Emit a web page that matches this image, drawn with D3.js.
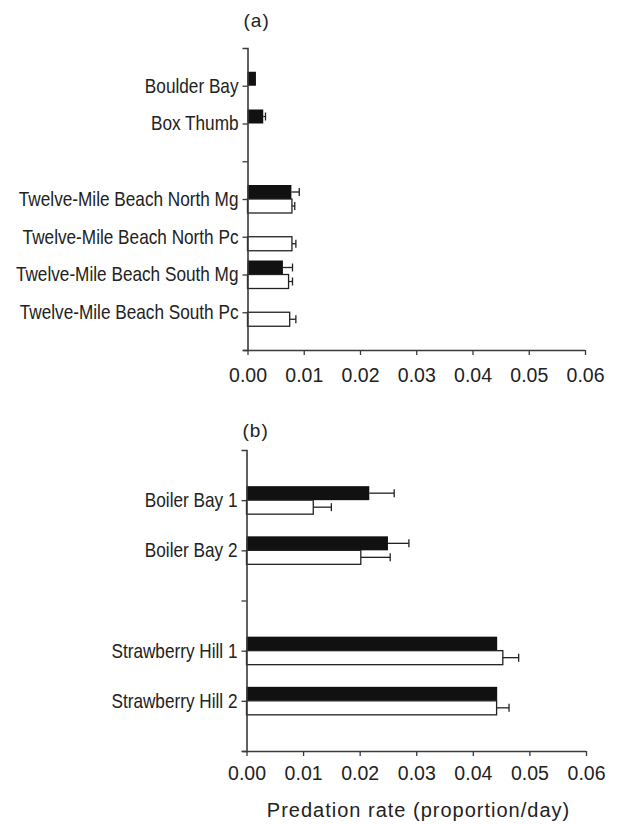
<!DOCTYPE html>
<html>
<head>
<meta charset="utf-8">
<script src="https://cdnjs.cloudflare.com/ajax/libs/d3/7.8.5/d3.min.js"></script>
<style>
  body { margin: 0; background: #fff; }
  svg { display: block; font-family: 'Liberation Sans', Arial, Helvetica, sans-serif; }
</style>
</head>
<body>
<svg id="chart" width="624" height="824"></svg>
<script>
// panel (a) data
const sitesA = ['Boulder Bay', 'Box Thumb', ' ', 'Twelve-Mile Beach North Mg', 'Twelve-Mile Beach North Pc',
  'Twelve-Mile Beach South Mg', 'Twelve-Mile Beach South Pc']
const blackA = [0.0015, 0.0028, null, 0.0078, null, 0.0063, null]
const blackErrA = [null, 0.0004, null, 0.0014, null, 0.0017, null]
const whiteA = [null, null, null, 0.0079, 0.0079, 0.0073, 0.0075]
const whiteErrA = [null, null, null, 0.0005, 0.0007, 0.0007, 0.0011]

// panel (b) data
const sitesB = ['Boiler Bay 1', 'Boiler Bay 2', ' ', 'Strawberry Hill 1', 'Strawberry Hill 2']
const blackB = [0.0217, 0.0250, null, 0.0443, 0.0443]
const blackErrB = [0.0044, 0.0037, null, null, null]
const whiteB = [0.0118, 0.0202, null, 0.0453, 0.0442]
const whiteErrB = [0.0032, 0.0052, null, 0.0028, 0.0022]

const xTicks = [0, 0.01, 0.02, 0.03, 0.04, 0.05, 0.06]
const xTitle = 'Predation rate (proportion/day)'

const svg = d3.select('#chart')
const axisColor = '#3a3a3a'
const barH = 14

function drawPanel(opts) {
  const g = svg.append('g')
  const x = d3.scaleLinear().domain([0, 0.06]).range([opts.left, opts.right])
  const y = d3.scalePoint().domain(opts.sites).range([opts.top, opts.bottom]).padding(1)

  // 面板标签
  g.append('text')
    .attr('x', opts.left - 4)
    .attr('y', opts.labelY)
    .attr('font-size', 19)
    .attr('letter-spacing', 1)
    .attr('fill', '#222')
    .text(opts.label)

  // bars
  const rows = opts.sites.map((s, i) => ({
    site: s,
    black: opts.black[i],
    blackErr: opts.blackErr[i],
    white: opts.white[i],
    whiteErr: opts.whiteErr[i],
  }))

  const bars = g.append('g')
  rows.forEach((d) => {
    const yc = y(d.site)
    if (d.black != null) {
      bars.append('rect')
        .attr('x', x(0))
        .attr('y', yc - barH)
        .attr('width', x(d.black) - x(0))
        .attr('height', barH)
        .attr('fill', '#111')
      if (d.blackErr != null) drawErr(bars, x(d.black), x(d.black + d.blackErr), yc - barH / 2)
    }
    if (d.white != null) {
      bars.append('rect')
        .attr('x', x(0))
        .attr('y', yc)
        .attr('width', x(d.white) - x(0))
        .attr('height', barH)
        .attr('fill', '#fff')
        .attr('stroke', '#222')
        .attr('stroke-width', 1.3)
      if (d.whiteErr != null) drawErr(bars, x(d.white), x(d.white + d.whiteErr), yc + barH / 2)
    }
  })

  // y axis
  const yAxis = g.append('g')
    .attr('transform', `translate(${opts.left},0)`)
    .call(d3.axisLeft(y).tickSize(5).tickSizeOuter(5).tickPadding(4))
  yAxis.select('.domain').attr('stroke', axisColor).attr('stroke-width', 1.6)
  yAxis.selectAll('.tick line').attr('stroke', axisColor).attr('stroke-width', 1.3)
  yAxis.selectAll('.tick text')
    .attr('font-size', 20)
    .attr('font-family', null)
    .attr('fill', '#222')
    .attr('x', -9 / 0.86)
    .attr('transform', 'scale(0.86,1)')

  // x axis
  const xAxis = g.append('g')
    .attr('transform', `translate(0,${opts.bottom})`)
    .call(d3.axisBottom(x).tickValues(xTicks).tickFormat(d3.format('.2f'))
      .tickSize(5).tickSizeOuter(0).tickPadding(opts.tickPad))
  xAxis.select('.domain').attr('stroke', axisColor).attr('stroke-width', 1.6)
    .attr('d', `M${opts.left - 4},0.5H${opts.right}`)
  xAxis.selectAll('.tick line').attr('stroke', axisColor).attr('stroke-width', 1.3)
  xAxis.selectAll('.tick text')
    .attr('font-size', 19.5)
    .attr('font-family', null)
    .attr('fill', '#222')
}

function drawErr(sel, x0, x1, yc) {
  sel.append('line')
    .attr('x1', x0).attr('x2', x1)
    .attr('y1', yc).attr('y2', yc)
    .attr('stroke', '#222').attr('stroke-width', 1.3)
  sel.append('line')
    .attr('x1', x1).attr('x2', x1)
    .attr('y1', yc - 4).attr('y2', yc + 4)
    .attr('stroke', '#222').attr('stroke-width', 1.3)
}

drawPanel({
  label: '(a)', labelY: 27,
  sites: sitesA, black: blackA, blackErr: blackErrA, white: whiteA, whiteErr: whiteErrA,
  left: 247.5, right: 585, top: 48, bottom: 350, tickPad: 13,
})

drawPanel({
  label: '(b)', labelY: 437,
  sites: sitesB, black: blackB, blackErr: blackErrB, white: whiteB, whiteErr: whiteErrB,
  left: 246.5, right: 586, top: 450, bottom: 751, tickPad: 10,
})

// x轴标题
svg.append('text')
  .attr('x', 418.5)
  .attr('y', 817)
  .attr('text-anchor', 'middle')
  .attr('font-size', 20)
  .attr('letter-spacing', 1)
  .attr('fill', '#222')
  .text(xTitle)
</script>
</body>
</html>
